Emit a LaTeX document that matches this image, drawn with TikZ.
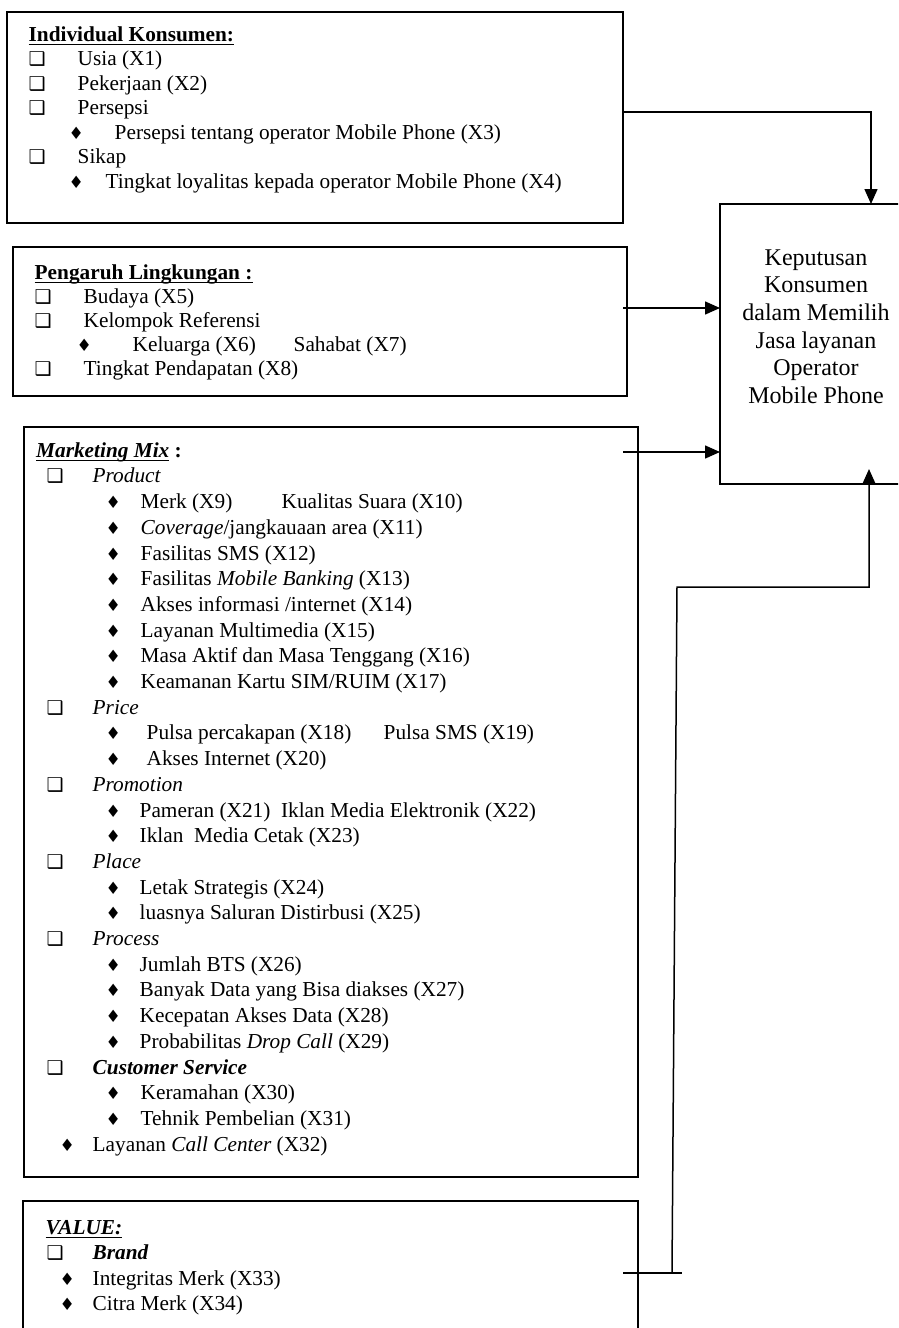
\documentclass[tikz,border=0pt]{standalone}
\usepackage{fontspec}
\setmainfont{Liberation Serif}
\newfontfamily\symfont{DejaVu Sans}
\usetikzlibrary{positioning,arrows.meta}

\newcommand{\sqb}{{\fontsize{19}{19}\selectfont\symfont ❑}}
\newcommand{\dmb}{{\fontsize{17}{17}\selectfont\symfont ♦}}
\newcommand{\tx}[2]{\rlap{\hspace*{#1pt}#2}}
\newcommand{\hdline}[1]{\underline{\raisebox{0pt}[\height][1.5pt]{#1}}}
\newcommand{\topstrut}{\rule{0pt}{17pt}}

\begin{document}
\begin{tikzpicture}[x=1pt,y=-1pt,>={Triangle[length=15pt,width=13pt]},
    box/.style={draw,rectangle,line width=1.6pt,inner sep=0pt,outer sep=0pt,anchor=north west},
    list/.style={align=left,inner sep=0pt},
    link/.style={line width=1.5pt}]
    \useasboundingbox (0,0) rectangle (898,1328);
    \clip (0,0) rectangle (898,1328);

    \draw (7,12) node (ind) [box,minimum width=616pt,minimum height=211pt] {};
    \draw (13,247) node (env) [box,minimum width=614pt,minimum height=149pt] {};
    \draw (24,427) node (mix) [box,minimum width=614pt,minimum height=750pt] {};
    \draw (23,1201) node (val) [box,minimum width=615pt,minimum height=140pt] {};
    \draw (720,204) node (dec) [box,minimum width=192pt,minimum height=280pt] {};

    \node (indtxt) [list,below right=12pt and 21pt of ind.north west,font=\fontsize{21.3}{24.5}\selectfont] {%
        \topstrut\tx{0}{\hdline{\textbf{Individual Konsumen:}}}\\
        \tx{0}{\sqb}\tx{49}{Usia (X1)}\\
        \tx{0}{\sqb}\tx{49}{Pekerjaan (X2)}\\
        \tx{0}{\sqb}\tx{49}{Persepsi}\\
        \tx{40}{\dmb}\tx{86}{Persepsi tentang operator Mobile Phone (X3)}\\
        \tx{0}{\sqb}\tx{49}{Sikap}\\
        \tx{40}{\dmb}\tx{77}{Tingkat loyalitas kepada operator Mobile Phone (X4)}};

    \node (envtxt) [list,below right=15pt and 21pt of env.north west,font=\fontsize{21.3}{24}\selectfont] {%
        \topstrut\tx{0}{\hdline{\textbf{Pengaruh Lingkungan :}}}\\
        \tx{0}{\sqb}\tx{49}{Budaya (X5)}\\
        \tx{0}{\sqb}\tx{49}{Kelompok Referensi}\\
        \tx{42}{\dmb}\tx{98}{Keluarga (X6)}\tx{259}{Sahabat (X7)}\\
        \tx{0}{\sqb}\tx{49}{Tingkat Pendapatan (X8)}};

    \node (mixtxt) [list,below right=13pt and 11.5pt of mix.north west,font=\fontsize{21.3}{25.7}\selectfont] {%
        \topstrut\tx{0}{\textbf{\textit{\hdline{Marketing Mix}} :}}\\
        \tx{10.5}{\sqb}\tx{56.5}{\textit{Product}}\\
        \tx{69.5}{\dmb}\tx{104.5}{Merk (X9)}\tx{245.5}{Kualitas Suara (X10)}\\
        \tx{69.5}{\dmb}\tx{104.5}{\textit{Coverage}/jangkauaan area (X11)}\\
        \tx{69.5}{\dmb}\tx{104.5}{Fasilitas SMS (X12)}\\
        \tx{69.5}{\dmb}\tx{104.5}{Fasilitas \textit{Mobile Banking} (X13)}\\
        \tx{69.5}{\dmb}\tx{104.5}{Akses informasi /internet (X14)}\\
        \tx{69.5}{\dmb}\tx{104.5}{Layanan Multimedia (X15)}\\
        \tx{69.5}{\dmb}\tx{104.5}{Masa Aktif dan Masa Tenggang (X16)}\\
        \tx{69.5}{\dmb}\tx{104.5}{Keamanan Kartu SIM/RUIM (X17)}\\
        \tx{10.5}{\sqb}\tx{56.5}{\textit{Price}}\\
        \tx{69.5}{\dmb}\tx{110.5}{Pulsa percakapan (X18)}\tx{347.5}{Pulsa SMS (X19)}\\
        \tx{69.5}{\dmb}\tx{110.5}{Akses Internet (X20)}\\
        \tx{10.5}{\sqb}\tx{56.5}{\textit{Promotion}}\\
        \tx{69.5}{\dmb}\tx{103.5}{Pameran (X21)\ \ Iklan Media Elektronik (X22)}\\
        \tx{69.5}{\dmb}\tx{103.5}{Iklan\ \ Media Cetak (X23)}\\
        \tx{10.5}{\sqb}\tx{56.5}{\textit{Place}}\\
        \tx{69.5}{\dmb}\tx{103.5}{Letak Strategis (X24)}\\
        \tx{69.5}{\dmb}\tx{103.5}{luasnya Saluran Distirbusi (X25)}\\
        \tx{10.5}{\sqb}\tx{56.5}{\textit{Process}}\\
        \tx{69.5}{\dmb}\tx{103.5}{Jumlah BTS (X26)}\\
        \tx{69.5}{\dmb}\tx{103.5}{Banyak Data yang Bisa diakses (X27)}\\
        \tx{69.5}{\dmb}\tx{103.5}{Kecepatan Akses Data (X28)}\\
        \tx{69.5}{\dmb}\tx{103.5}{Probabilitas \textit{Drop Call} (X29)}\\
        \tx{10.5}{\sqb}\tx{56.5}{\textbf{\textit{Customer Service}}}\\
        \tx{69.5}{\dmb}\tx{104.5}{Keramahan (X30)}\\
        \tx{69.5}{\dmb}\tx{104.5}{Tehnik Pembelian (X31)}\\
        \tx{23.5}{\dmb}\tx{56.5}{Layanan \textit{Call Center} (X32)}};

    \node (valtxt) [list,below right=16pt and 22pt of val.north west,font=\fontsize{21.3}{25.5}\selectfont] {%
        \topstrut\tx{0}{\textbf{\textit{\hdline{VALUE:}}}}\\
        \tx{1}{\sqb}\tx{47}{\textbf{\textit{Brand}}}\\
        \tx{14}{\dmb}\tx{47}{Integritas Merk (X33)}\\
        \tx{14}{\dmb}\tx{47}{Citra Merk (X34)}};

    \node (dectxt) [align=center,inner sep=0pt,below=43pt of dec.north,font=\fontsize{24}{27.6}\selectfont] {%
        \rule{0pt}{18pt}Keputusan\\Konsumen\\dalam Memilih\\Jasa layanan\\Operator\\Mobile Phone};

    % arrows into the decision box
    \draw [->,link] ([yshift=5.5pt]ind.east) -| ([xshift=55pt]dec.north);
    \coordinate (e1) at ([xshift=-4pt,yshift=13.5pt]env.east);
    \draw [->,link] (e1) -- (e1 -| dec.west);
    \coordinate (m1) at ([xshift=-15pt,yshift=-25pt]mix.north east);
    \draw [->,link] (m1) -- (m1 -| dec.west);
    \coordinate (v1) at ([xshift=-15pt,yshift=-72pt]val.north east);
    \draw [link] (v1) -- ++(59,0);
    \draw [->,link] ([xshift=49pt]v1) -- (677,587) -| ([xshift=53pt,yshift=15pt]dec.south);
\end{tikzpicture}
\end{document}
